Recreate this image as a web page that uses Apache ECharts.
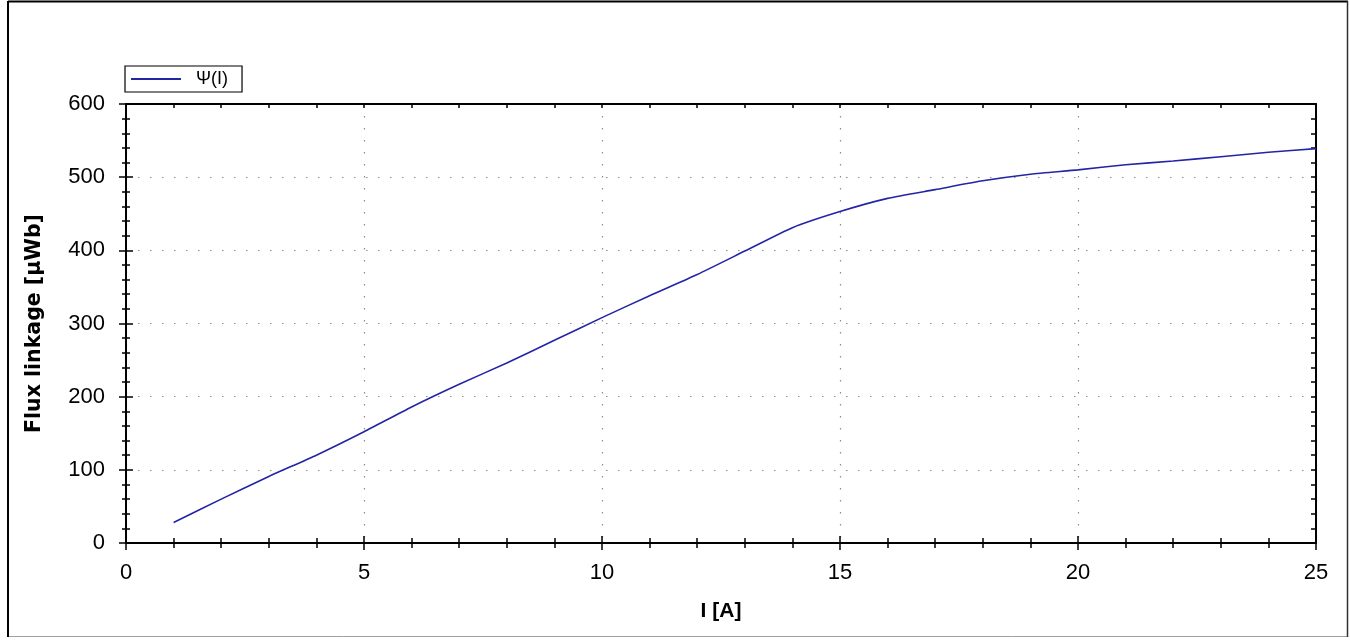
<!DOCTYPE html>
<html>
<head>
<meta charset="utf-8">
<script src="https://cdn.jsdelivr.net/npm/echarts@6/dist/echarts.min.js"></script>
<style>
html,body{margin:0;padding:0;background:#fff;}
#chart{width:1350px;height:640px;}
</style>
</head>
<body>
<div id="chart"></div>
<script>
const currentA = [1,2,3,4,5,6,7,8,9,10,11,12,13,14,15,16,17,18,19,20,21,22,23,24,25];
const fluxUWb = [28,60,91,120,152,186,217,246,277,308,338,367,399,431,453,471,483,495,504,510,517,522,528,534,539];
const seriesName = 'Ψ(I)';
const xTitle = 'I [A]';
const yTitle = 'Flux linkage [μWb]';

const FONT = '"Liberation Sans", Arial, sans-serif';
const chart = echarts.init(document.getElementById('chart'));
const data = currentA.map((x, i) => [x, fluxUWb[i]]);

const dotted = { show: true, lineStyle: { color: '#8c8c8c', width: 1.2, type: [1.5, 10.5] } };
const blackLine = { show: true, onZero: false, lineStyle: { color: '#000', width: 2 } };
const tickStyle = { color: '#000', width: 1.5 };

chart.setOption({
  animation: false,
  backgroundColor: '#fff',
  textStyle: { fontFamily: FONT },
  graphic: [
    { type: 'rect', shape: { x: 8.5, y: 1.5, width: 1339, height: 635 }, style: { fill: 'none', stroke: '#a0a0a0', lineWidth: 1 }, silent: true },
    { type: 'line', shape: { x1: 8, y1: 1, x2: 8, y2: 637 }, style: { stroke: '#000', lineWidth: 2 }, silent: true },
    { type: 'line', shape: { x1: 8, y1: 1.5, x2: 1348, y2: 1.5 }, style: { stroke: '#000', lineWidth: 2 }, silent: true },
    { type: 'line', shape: { x1: 1347.5, y1: 1, x2: 1347.5, y2: 637 }, style: { stroke: '#303030', lineWidth: 1.5 }, silent: true }
  ],
  legend: {
    left: 125, top: 66,
    orient: 'horizontal',
    borderColor: '#000', borderWidth: 1.2, borderRadius: 0,
    padding: [4, 14, 4, 6],
    icon: 'rect',
    itemWidth: 50, itemHeight: 2,
    textStyle: { color: '#000', fontSize: 18, fontFamily: FONT, padding: [0, 0, 0, 10], lineHeight: 18 },
    data: [seriesName]
  },
  grid: { left: 126, right: 34, top: 104, bottom: 97, containLabel: false },
  xAxis: [
    {
      type: 'value', min: 0, max: 25, interval: 5, position: 'bottom',
      name: xTitle, nameLocation: 'middle', nameGap: 58,
      nameTextStyle: { color: '#000', fontSize: 21, fontWeight: 'bold', fontFamily: FONT },
      axisLine: blackLine,
      axisTick: { show: true, inside: false, length: 7, lineStyle: tickStyle },
      minorTick: { show: true, splitNumber: 5, length: 5, lineStyle: tickStyle },
      axisLabel: { color: '#000', fontSize: 22, margin: 19, fontFamily: FONT },
      splitLine: dotted
    },
    {
      type: 'value', min: 0, max: 25, interval: 5, position: 'bottom',
      axisLine: { show: false, onZero: false },
      axisTick: { show: true, inside: true, length: 7, lineStyle: tickStyle },
      minorTick: { show: true, splitNumber: 5, length: 5, lineStyle: tickStyle },
      axisLabel: { show: false }, splitLine: { show: false }
    },
    {
      type: 'value', min: 0, max: 25, interval: 5, position: 'top',
      axisLine: blackLine,
      axisTick: { show: true, inside: true, length: 4, lineStyle: tickStyle },
      minorTick: { show: true, splitNumber: 5, length: 4, lineStyle: tickStyle },
      axisLabel: { show: false }, splitLine: { show: false }
    }
  ],
  yAxis: [
    {
      type: 'value', min: 0, max: 600, interval: 100, position: 'left',
      name: yTitle, nameLocation: 'middle', nameGap: 81, nameRotate: 90,
      nameTextStyle: { color: '#000', fontSize: 20.5, fontWeight: 'bold', fontFamily: '"DejaVu Sans", Verdana, sans-serif' },
      axisLine: blackLine,
      axisTick: { show: true, inside: false, length: 7, lineStyle: tickStyle },
      minorTick: { show: true, splitNumber: 5, length: 4, lineStyle: tickStyle },
      axisLabel: { color: '#000', fontSize: 22, margin: 21, fontFamily: FONT },
      splitLine: dotted
    },
    {
      type: 'value', min: 0, max: 600, interval: 100, position: 'left',
      axisLine: { show: false, onZero: false },
      axisTick: { show: true, inside: true, length: 7, lineStyle: tickStyle },
      minorTick: { show: true, splitNumber: 5, length: 4, lineStyle: tickStyle },
      axisLabel: { show: false }, splitLine: { show: false }
    },
    {
      type: 'value', min: 0, max: 600, interval: 100, position: 'right',
      axisLine: blackLine,
      axisTick: { show: true, inside: true, length: 5, lineStyle: tickStyle },
      minorTick: { show: true, splitNumber: 5, length: 5, lineStyle: tickStyle },
      axisLabel: { show: false }, splitLine: { show: false }
    }
  ],
  series: [{
    name: seriesName,
    type: 'line',
    xAxisIndex: 0, yAxisIndex: 0,
    data: data,
    symbol: 'none',
    smooth: 0.2,
    color: '#2424a6',
    lineStyle: { color: '#2424a6', width: 1.6 }
  }]
});
</script>
</body>
</html>
